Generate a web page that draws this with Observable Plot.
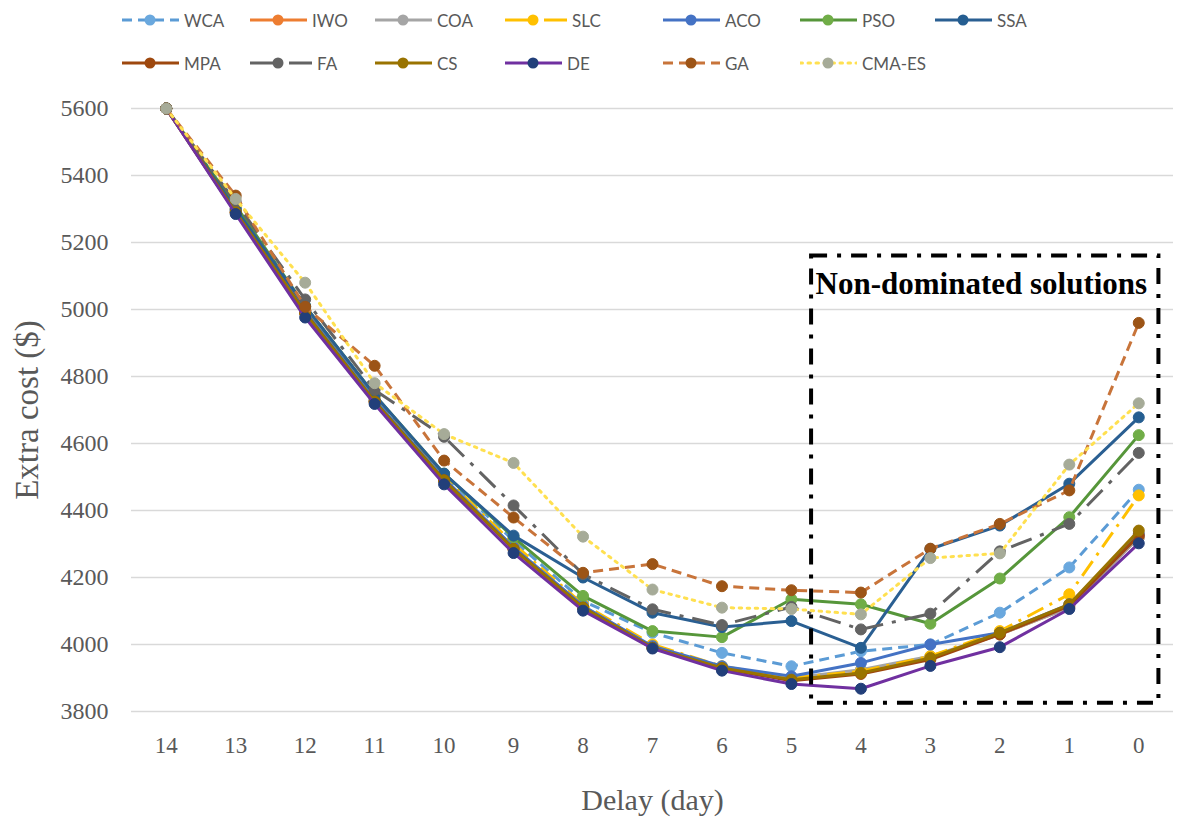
<!DOCTYPE html>
<html><head><meta charset="utf-8">
<script src="https://cdn.jsdelivr.net/npm/d3@7"></script>
<script src="https://cdn.jsdelivr.net/npm/@observablehq/plot@0.6"></script>
<style>
body{margin:0;background:#fff;}
#legend{position:relative;width:1182px;height:88px;font-family:Lato,"Open Sans",sans-serif;font-size:17px;color:#595959;}
.item{position:absolute;display:flex;align-items:center;height:22px;white-space:nowrap;}
.item svg{margin-right:5px;}
</style></head><body>
<div id="legend"></div><div id="chart"></div>
<script>
// ---- data ----
const delays = [14,13,12,11,10,9,8,7,6,5,4,3,2,1,0];
const yTicks = [3800,4000,4200,4400,4600,4800,5000,5200,5400,5600];
const names = ["WCA","IWO","COA","SLC","ACO","PSO","SSA","MPA","FA","CS","DE","GA","CMA-ES"];
const WCA   = [5600,5300,5005,4740,4505,4310,4130,4035,3975,3935,3980,4000,4095,4230,4462];
const IWO   = [5600,5290,4990,4725,4490,4285,4110,3990,3928,3895,3915,3960,4030,4110,4320];
const COA   = [5600,5295,4995,4730,4495,4290,4115,3992,3930,3900,3925,3965,4030,4110,4320];
const SLC   = [5600,5300,5000,4735,4500,4300,4120,4000,3935,3900,3920,3965,4040,4150,4445];
const ACO   = [5600,5295,4995,4730,4495,4290,4115,3995,3935,3905,3945,4000,4035,4120,4330];
const PSO   = [5600,5310,5010,4745,4510,4320,4145,4040,4022,4135,4120,4062,4197,4380,4625];
const SSA   = [5600,5300,5010,4745,4510,4325,4200,4095,4052,4070,3990,4285,4355,4480,4678];
const MPA   = [5600,5290,4990,4725,4490,4285,4110,3990,3928,3892,3912,3955,4030,4115,4325];
const FA    = [5600,5320,5030,4760,4620,4415,4210,4105,4058,4112,4045,4092,4278,4360,4572];
const CS    = [5600,5290,4990,4725,4490,4285,4110,3990,3930,3895,3915,3960,4035,4120,4340];
const DE    = [5600,5285,4976,4718,4478,4273,4101,3988,3922,3882,3868,3936,3992,4106,4302];
const GA    = [5600,5340,5008,4832,4549,4379,4214,4240,4174,4162,4155,4286,4360,4460,4960];
const CMAES = [5600,5330,5080,4780,4628,4542,4322,4164,4110,4106,4090,4258,4272,4537,4720];
const seriesValues = [WCA,IWO,COA,SLC,ACO,PSO,SSA,MPA,FA,CS,DE,GA,CMAES];
const regionLabel = "Non-dominated solutions";
const regionDelay = [4.71, -0.29];
const regionCost = [3825, 5160];
const regionLabelCost = 5075;

// ---- styles ----
const lineColors   = ["#5B9BD5","#ED7D31","#A5A5A5","#FFC000","#4472C4","#56963A","#2A5F92","#9E480E","#636363","#997300","#7030A0","#C8743A","#FFE050"];
const markerColors = ["#6AA8DE","#ED7D31","#A5A5A5","#FFC000","#4472C4","#70AD47","#255E91","#9E480E","#636363","#997300","#223F7A","#9C5416","#A6AB98"];
const dashes = ["10,6",null,null,"18,7,3,7",null,null,null,null,"22,9,4,9",null,null,"10,6","2.5,5.5"];

const rows = names.flatMap((n,i)=>delays.map((d,j)=>({name:n, delay:d, cost:seriesValues[i][j]})));

const marks = [
  Plot.gridY(yTicks, {stroke:"#d9d9d9", strokeOpacity:1, strokeWidth:1.5}),
  Plot.axisY(yTicks, {tickSize:0, tickPadding:23, label:null, fontSize:24, tickFormat:d=>String(d)}),
  Plot.axisX(delays, {tickSize:0, tickPadding:25, label:null, fontSize:23, tickFormat:d=>String(d)}),
];
names.forEach((n,i)=>{
  const data = rows.filter(r=>r.name===n);
  marks.push(Plot.line(data,{x:"delay",y:"cost",stroke:lineColors[i],strokeWidth:3,strokeDasharray:dashes[i],strokeLinecap:dashes[i]==="2.5,5.5"?"round":"butt"}));
  marks.push(Plot.dot(data,{x:"delay",y:"cost",r:5.5,fill:markerColors[i],stroke:markerColors[i],strokeWidth:1}));
});
marks.push(Plot.rect([{x1:regionDelay[0],x2:regionDelay[1],y1:regionCost[0],y2:regionCost[1]}],
  {x1:"x1",x2:"x2",y1:"y1",y2:"y2",fill:"none",stroke:"#000",strokeWidth:4,strokeDasharray:"16,10,4,10"}));
marks.push(Plot.text([regionLabel],{x:()=>regionDelay[0],y:()=>regionLabelCost,text:d=>d,textAnchor:"start",dx:4,fontSize:31,fontWeight:"bold",fill:"#000"}));
marks.push(Plot.text(["Extra cost ($)"],{frameAnchor:"left",rotate:-90,dx:-104,textAnchor:"middle",lineAnchor:"middle",text:d=>d,fontSize:33,fill:"#595959"}));
marks.push(Plot.text(["Delay (day)"],{frameAnchor:"bottom",dy:89,textAnchor:"middle",lineAnchor:"middle",text:d=>d,fontSize:30,fill:"#595959"}));

const chart = Plot.plot({
  width:1182, height:733,
  marginLeft:131, marginRight:9, marginTop:20, marginBottom:110,
  style:{fontFamily:"'Liberation Serif', 'DejaVu Serif', serif", color:"#595959", background:"#fff"},
  x:{type:"linear", domain:[14.5,-0.5]},
  y:{domain:[3800,5600]},
  marks
});
document.getElementById("chart").appendChild(chart);

// ---- legend ----
const legendPos = [[122,20],[250,20],[375,20],[505,20],[663,20],[800,20],[935,20],
                   [122,63],[250,63],[375,63],[505,63],[663,63],[800,63]];
const leg = document.getElementById("legend");
names.forEach((n,i)=>{
  const div = document.createElement("div");
  div.className="item";
  div.style.left = legendPos[i][0]+"px";
  div.style.top = (legendPos[i][1]-11)+"px";
  const w = (dashes[i] && (dashes[i].startsWith("18") || dashes[i].startsWith("22"))) ? 62 : 57;
  const svg = d3.create("svg").attr("width",w).attr("height",14);
  svg.append("line").attr("x1",0).attr("x2",w).attr("y1",7).attr("y2",7)
    .attr("stroke",lineColors[i]).attr("stroke-width",3)
    .attr("stroke-dasharray",dashes[i]==="2.5,5.5"?"2.5,5.5":(dashes[i]==="10,6"?"10,6":(dashes[i]?"24,6,3,6":null)))
    .attr("stroke-linecap",dashes[i]==="2.5,5.5"?"round":"butt");
  svg.append("circle").attr("cx",28).attr("cy",7).attr("r",5.5).attr("fill",markerColors[i]);
  div.appendChild(svg.node());
  const sp = document.createElement("span"); sp.textContent = n;
  div.appendChild(sp);
  leg.appendChild(div);
});
</script>
</body></html>
